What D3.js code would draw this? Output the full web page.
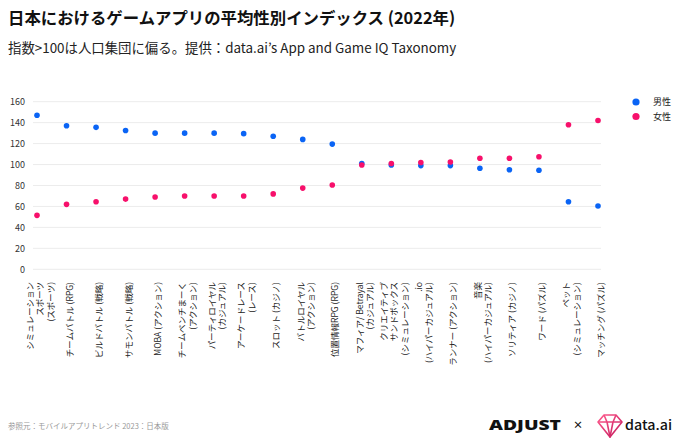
<!DOCTYPE html>
<html><head><meta charset="utf-8">
<script src="https://cdn.jsdelivr.net/npm/d3@7"></script>
<style>
body{margin:0;background:#fff;}
svg{display:block;font-family:"Noto Sans CJK JP","Noto Sans",sans-serif;}
</style></head><body>
<svg id="c" width="680" height="443"></svg>
<script>
const categories = [
  ["シミュレーション","スポーツ","(スポーツ)"],
  ["チームバトル (RPG)"],
  ["ビルドバトル (戦略)"],
  ["サモンバトル (戦略)"],
  ["MOBA (アクション)"],
  ["チームベンチまーく","(アクション)"],
  ["パーティロイヤル","(カジュアル)"],
  ["アーケードレース","(レース)"],
  ["スロット (カジノ)"],
  ["バトルロイヤル","(アクション)"],
  ["位置情報RPG (RPG)"],
  ["マフィア/ Betrayal","(カジュアル)"],
  ["クリエイティブ","サンドボックス","(シミュレーション)"],
  [".io","(ハイパーカジュアル)"],
  ["ランナー (アクション)"],
  ["音楽","(ハイパーカジュアル)"],
  ["ソリティア (カジノ)"],
  ["ワード (パズル)"],
  ["ペット","(シミュレーション)"],
  ["マッチング (パズル)"]
];
const maleValues   = [147, 137, 135.5, 132.5, 130, 130, 130, 129.5, 127, 124, 119.5, 101, 99.5, 99, 99, 96.5, 95, 94.5, 64.5, 60.5];
const femaleValues = [51.5, 62, 64.5, 67, 69, 70, 70, 70, 72, 77.5, 80.5, 99.5, 101, 102, 102.5, 106, 106, 107.5, 138, 142];
const yTicks = [0, 20, 40, 60, 80, 100, 120, 140, 160];
const seriesNames = ["男性", "女性"];
const title = "日本におけるゲームアプリの平均性別インデックス (2022年)";
const subtitle = "指数>100は人口集団に偏る。提供：data.ai’s App and Game IQ Taxonomy";
const footer = "参照元：モバイルアプリトレンド 2023：日本版";

const colors = ["#0a64f5", "#f7106b"];
const svg = d3.select("#c");
const keys = categories.map((d, i) => "c" + i);

const x = d3.scalePoint().domain(keys).range([37, 598]);
const y = d3.scaleLinear().domain([0, 160]).range([269.3, 101.7]);

// title
svg.append("text").attr("x", 8).attr("y", 24).attr("font-size", 16.4).attr("font-weight", 700)
  .attr("fill", "#111").text(title);
svg.append("text").attr("x", 8).attr("y", 53).attr("font-size", 13.4).attr("font-weight", 400)
  .attr("fill", "#222").text(subtitle);

// gridlines
svg.append("g").selectAll("line").data(yTicks).join("line")
  .attr("x1", 33).attr("x2", 601)
  .attr("y1", d => y(d)).attr("y2", d => y(d))
  .attr("stroke", "#ececec").attr("stroke-width", 1);

// y axis labels
const yAxis = svg.append("g").attr("transform", "translate(25,0)")
  .call(d3.axisLeft(y).tickValues(yTicks).tickSize(0).tickPadding(0));
yAxis.select(".domain").remove();
yAxis.selectAll("text").attr("font-size", 9).attr("fill", "#333")
  .attr("font-family", "'Noto Sans CJK JP','Noto Sans',sans-serif");

// x labels
const fs = 8.5, lh = 10.5;
const lab = svg.append("g").selectAll("g").data(categories).join("g")
  .attr("transform", (d, i) => `translate(${x(keys[i])},282) rotate(-90)`);
lab.each(function(lines) {
  const t = d3.select(this).append("text").attr("text-anchor", "end")
    .attr("font-size", fs).attr("fill", "#222");
  const n = lines.length;
  lines.forEach((s, j) => {
    t.append("tspan").attr("x", 0)
      .attr("y", 3 + (j - (n - 1) / 2) * lh + 0.36 * fs)
      .text(s);
  });
});

// dots
const series = [maleValues, femaleValues];
series.forEach((vals, si) => {
  svg.append("g").selectAll("circle").data(vals).join("circle")
    .attr("cx", (d, i) => x(keys[i]))
    .attr("cy", d => y(d))
    .attr("r", 2.8)
    .attr("fill", colors[si]);
});

// legend
const leg = svg.append("g").selectAll("g").data(seriesNames).join("g")
  .attr("transform", (d, i) => `translate(636,${102 + i * 14.5})`);
leg.append("circle").attr("r", 3.6).attr("fill", (d, i) => colors[i]);
leg.append("text").attr("x", 17).attr("dy", "0.35em").attr("font-size", 9).attr("fill", "#222").text(d => d);

// footer
svg.append("text").attr("x", 8).attr("y", 429).attr("font-size", 7.5).attr("fill", "#999").text(footer);

// logos
svg.append("text").attr("x", 489).attr("y", 430).attr("font-size", 14).attr("font-weight", 800)
  .attr("fill", "#111").attr("font-family", "'Open Sans',sans-serif").attr("textLength", 72)
  .attr("lengthAdjust", "spacingAndGlyphs").text("ADJUST");
svg.append("text").attr("x", 578).attr("y", 429).attr("text-anchor", "middle").attr("font-size", 10).attr("font-weight", 700)
  .attr("fill", "#111").text("×");
const dg = svg.append("defs").append("linearGradient").attr("id", "dg").attr("x1", 0).attr("x2", 1).attr("y1", 0).attr("y2", 1);
dg.append("stop").attr("offset", "0%").attr("stop-color", "#ff5b8d");
dg.append("stop").attr("offset", "100%").attr("stop-color", "#c2185b");
const gem = svg.append("g").attr("fill", "none").attr("stroke", "url(#dg)").attr("stroke-width", 1.6).attr("stroke-linejoin", "round");
gem.append("path").attr("d", "M604,415 L616,415 L622,422 L610,437 L598,422 Z");
gem.append("path").attr("d", "M598,422 L622,422 M604,415 L607,422 L610,437 L613,422 L616,415");
svg.append("text").attr("x", 625).attr("y", 430).attr("font-size", 13).attr("font-weight", 500)
  .attr("fill", "#111").attr("textLength", 47).attr("lengthAdjust", "spacingAndGlyphs").text("data.ai");
</script>
</body></html>
